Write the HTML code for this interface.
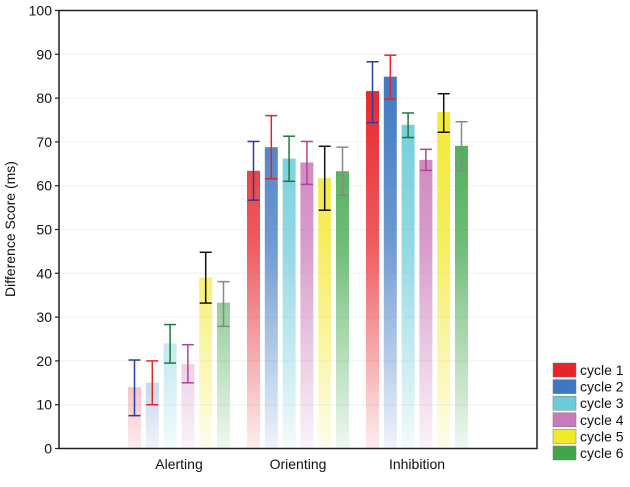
<!DOCTYPE html>
<html><head><meta charset="utf-8"><style>
body{margin:0;background:#fff;}
svg{font-family:"Liberation Sans",Arial,sans-serif;}
</style></head><body>
<svg id="chart" width="630" height="482" xmlns="http://www.w3.org/2000/svg"></svg>
<script>
const categories=["Alerting","Orienting","Inhibition"];
const seriesNames=["cycle 1","cycle 2","cycle 3","cycle 4","cycle 5","cycle 6"];
const cycle1=[14,63.4,81.6];
const cycle2=[15,68.8,84.9];
const cycle3=[24,66.2,73.9];
const cycle4=[19.3,65.3,65.9];
const cycle5=[39,61.7,76.8];
const cycle6=[33.3,63.3,69.1];
const lo1=[7.5,56.7,74.4],hi1=[20.2,70.1,88.3];
const lo2=[10,61.6,79.8],hi2=[20,76,89.8];
const lo3=[19.5,61,71],hi3=[28.3,71.3,76.6];
const lo4=[15,60.3,63.5],hi4=[23.7,70.1,68.3];
const lo5=[33.2,54.4,72.2],hi5=[44.8,69,81];
const lo6=[27.9,57.8,63.5],hi6=[38.1,68.8,74.6];
const yTicks=[0,10,20,30,40,50,60,70,80,90,100];

const values=[cycle1,cycle2,cycle3,cycle4,cycle5,cycle6];
const los=[lo1,lo2,lo3,lo4,lo5,lo6],his=[hi1,hi2,hi3,hi4,hi5,hi6];
const fills=["#e8242b","#3f78c2","#6ccbd9","#c97bb9","#f2e82a","#3fa64a"];
const errC=["#2a3f96","#e3242b","#1d7a3a","#b0449a","#111","#888"];
const NS="http://www.w3.org/2000/svg";
const svg=document.getElementById('chart');
const X0=59,X1=537,Y0=448.5,Y1=10.5;
const y=v=>Y0-(v/100)*(Y0-Y1);
const gx=i=>179+i*119;
const bw=13,step=17.8;
function mk(t,a,p){const e=document.createElementNS(NS,t);for(const k in a)e.setAttribute(k,a[k]);(p||svg).appendChild(e);return e;}
const defs=mk('defs',{});
fills.forEach((c,i)=>{const g=mk('linearGradient',{id:'g'+i,gradientUnits:'userSpaceOnUse',x1:0,y1:y(85),x2:0,y2:Y0},defs);
mk('stop',{offset:0,'stop-color':c},g);mk('stop',{offset:0.45,'stop-color':c,'stop-opacity':0.75},g);mk('stop',{offset:1,'stop-color':c,'stop-opacity':0.08},g);});
yTicks.forEach(t=>{
 const l=mk('line',{x1:X0,x2:X1,y1:y(t),y2:y(t),stroke:'#f0f0f0'});
 
 
 const tk=mk('line',{x1:X0-4,x2:X0,y1:y(t),y2:y(t),stroke:'#222','stroke-width':1.2});
 
 
 const tx=mk('text',{x:X0-7,y:y(t)+5,'text-anchor':'end','font-size':14,fill:'#111'});tx.textContent=t;
 
 
});
categories.forEach((c,ci)=>{
 values.forEach((s,si)=>{
  const bx=gx(ci)+(si-2.5)*step-bw/2;
  const r=mk('rect',{x:bx,y:y(s[ci]),width:bw,height:Y0-y(s[ci]),fill:'url(#g'+si+')'});
  
  
  const cx=bx+bw/2,col=errC[si];
  const g=mk('g',{stroke:col,'stroke-width':1.5});
  
  
  mk('line',{x1:cx,x2:cx,y1:y(los[si][ci]),y2:y(his[si][ci])},g);
  mk('line',{x1:cx-6,x2:cx+6,y1:y(los[si][ci]),y2:y(los[si][ci])},g);
  mk('line',{x1:cx-6,x2:cx+6,y1:y(his[si][ci]),y2:y(his[si][ci])},g);
 });
 const t=mk('text',{x:gx(ci),y:469,'text-anchor':'middle','font-size':14,fill:'#111'});t.textContent=c;
 
 
});
const ax=mk('rect',{x:X0,y:Y1,width:X1-X0,height:Y0-Y1,fill:'none',stroke:'#222','stroke-width':1.5});


const yt=mk('text',{x:0,y:0,transform:'translate(15,229) rotate(-90)','text-anchor':'middle','font-size':14,fill:'#111'});
yt.textContent='Difference Score (ms)';


seriesNames.forEach((n,i)=>{
 const g=mk('g',{});
 
 
 mk('rect',{x:553,y:363+i*16.6,width:23,height:14,fill:fills[i],stroke:'#777','stroke-width':0.5},g);
 const t=mk('text',{x:580,y:375+i*16.6,'font-size':14,fill:'#111'},g);t.textContent=n;
});
</script>
</body></html>
